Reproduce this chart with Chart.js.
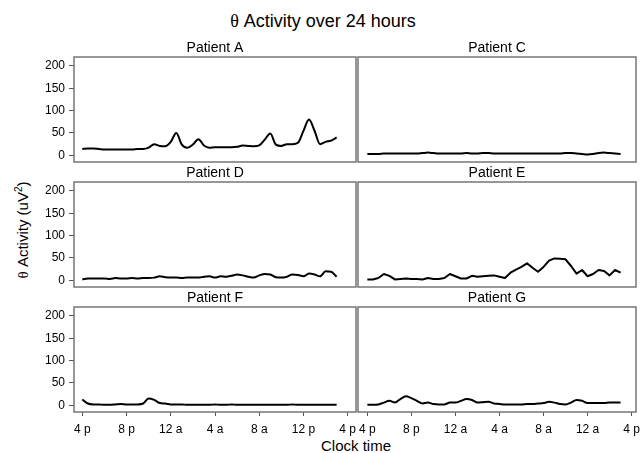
<!DOCTYPE html>
<html>
<head>
<meta charset="utf-8">
<script src="https://cdn.jsdelivr.net/npm/chart.js@4.4.0/dist/chart.umd.min.js"></script>
<style>
  body { margin: 0; background: #fff; }
  #wrap { position: relative; width: 642px; height: 453px; font-family: 'Liberation Sans', Arial, sans-serif; color: #000; overflow: hidden; }
  #wrap canvas { position: absolute; left: 0; top: 0; }
  .lbl { position: absolute; white-space: nowrap; line-height: 1; transform: translate(-50%, -50%); }
  .th { font-family: 'Liberation Serif', 'DejaVu Serif', serif; }
  #title { left: 323px; top: 21px; font-size: 18px; }
  #xlab { left: 356px; top: 445px; font-size: 15px; }
  #ylab { left: 22px; top: 230px; font-size: 15px; transform: translate(-50%, -50%) rotate(-90deg); }
  #ylab sup { font-size: 10px; vertical-align: 6px; }
</style>
</head>
<body>
<div id="wrap">
  <div class="lbl" id="title"><span class="th">θ</span> Activity over 24 hours</div>
  <div class="lbl" id="ylab"><span class="th">θ</span> Activity (uV<sup>2</sup>)</div>
  <div class="lbl" id="xlab">Clock time</div>
</div>
<script>
// hours since 4 pm
const hours = [0, 0.5, 1, 1.5, 2, 2.5, 3, 3.5, 4, 4.5, 5, 5.5, 6, 6.5, 7, 7.5, 8, 8.5, 9, 9.5,
  10, 10.5, 11, 11.5, 12, 12.5, 13, 13.5, 14, 14.5, 15, 15.5, 16, 16.5, 17, 17.5, 18, 18.5, 19, 19.5,
  20, 20.5, 21, 21.5, 22, 22.5, 23];

const xTickValues = [0, 4, 8, 12, 16, 20, 24];
const xTickLabelsLeft = ['4 p', '8 p', '12 a', '4 a', '8 a', '12 p', '4 p'];
const xTickLabelsRight = ['4 p', '8 p', '12 a', '4 a', '8 a', '12 a', '4 p'];
const yTickValues = [0, 50, 100, 150, 200];

const patientA = [14, 15, 15, 14, 13, 13, 13, 13, 13, 13, 14, 14, 17, 25, 21, 20, 30, 50, 24, 17,
  24, 36, 22, 17, 18, 18, 18, 18, 19, 22, 21, 20, 22, 35, 49, 24, 21, 25, 25, 28, 55, 80, 55, 25, 30, 33, 40];
const patientC = [3, 3, 3, 4, 4, 4, 4, 4, 4, 4, 5, 6, 5, 4, 4, 4, 4, 4, 5, 4,
  4, 5, 5, 4, 4, 4, 4, 4, 4, 4, 4, 4, 4, 4, 4, 4, 5, 5, 4, 3, 2, 3, 5, 6, 5, 4, 3];
const patientD = [2, 4, 4, 4, 4, 3, 5, 4, 4, 5, 4, 5, 5, 6, 9, 7, 6, 6, 5, 6,
  6, 6, 8, 9, 6, 9, 8, 10, 13, 11, 8, 6, 11, 14, 13, 7, 6, 8, 13, 12, 9, 15, 13, 9, 20, 19, 8];
const patientE = [2, 2, 5, 14, 10, 2, 3, 4, 3, 3, 2, 5, 3, 3, 5, 14, 9, 4, 4, 10,
  8, 9, 10, 11, 8, 5, 17, 24, 30, 38, 28, 19, 30, 44, 49, 48, 47, 32, 15, 23, 9, 14, 23, 21, 11, 23, 17];
const patientF = [13, 4, 2, 2, 1, 1, 2, 3, 2, 2, 2, 4, 15, 12, 5, 4, 2, 2, 2, 1,
  1, 1, 1, 1, 2, 1, 1, 2, 1, 1, 1, 1, 1, 1, 1, 1, 1, 1, 2, 1, 1, 1, 1, 1, 1, 1, 1];
const patientG = [1, 1, 2, 6, 10, 6, 14, 20, 16, 10, 4, 6, 3, 2, 2, 6, 6, 10, 14, 12,
  6, 7, 8, 4, 3, 2, 2, 2, 2, 3, 3, 4, 5, 8, 6, 3, 2, 6, 12, 10, 5, 5, 5, 5, 6, 6, 6];

const panels = [
  { name: 'Patient A', values: patientA, col: 0, row: 0, smooth: true },
  { name: 'Patient C', values: patientC, col: 1, row: 0, smooth: true },
  { name: 'Patient D', values: patientD, col: 0, row: 1, smooth: true },
  { name: 'Patient E', values: patientE, col: 1, row: 1, smooth: false },
  { name: 'Patient F', values: patientF, col: 0, row: 2, smooth: true },
  { name: 'Patient G', values: patientG, col: 1, row: 2, smooth: true }
];

// panel boxes in page pixels
const W = 642, H = 453;
const colLeft = [74, 358], colRight = [356, 636];
const rowTop = [57, 182, 307], rowBottom = [162, 287, 412];
const xMin = [-0.75, -0.85], xMax = [24.75, 24.4];
const Y_AXIS_W = 54, X_AXIS_H = 30, TITLE_H = 17;

Chart.defaults.font.family = "'Liberation Sans', Arial, sans-serif";
Chart.defaults.color = '#000';

// grey frame round each panel
const frame = {
  id: 'frame',
  afterDraw(chart) {
    const { ctx, chartArea: a } = chart;
    ctx.save();
    ctx.strokeStyle = '#767676';
    ctx.lineWidth = 1.5;
    ctx.strokeRect(a.left, a.top, a.right - a.left, a.bottom - a.top);
    ctx.restore();
  }
};

const wrap = document.getElementById('wrap');

panels.forEach(p => {
  const canvas = document.createElement('canvas');
  canvas.width = W;
  canvas.height = H;
  wrap.appendChild(canvas);

  const showY = p.col === 0;
  const showX = p.row === 2;
  const xLabels = p.col === 0 ? xTickLabelsLeft : xTickLabelsRight;

  new Chart(canvas, {
    type: 'line',
    data: {
      datasets: [{
        data: hours.map((h, i) => ({ x: h, y: p.values[i] })),
        borderColor: '#000',
        borderWidth: 2,
        pointRadius: 0,
        borderJoinStyle: 'round',
        cubicInterpolationMode: p.smooth ? 'monotone' : 'default',
        tension: 0,
        fill: false
      }]
    },
    options: {
      responsive: false,
      animation: false,
      layout: {
        padding: {
          left: showY ? colLeft[p.col] - Y_AXIS_W : colLeft[p.col],
          right: W - colRight[p.col],
          top: rowTop[p.row] - TITLE_H,
          bottom: H - rowBottom[p.row] - (showX ? X_AXIS_H : 0)
        }
      },
      plugins: {
        legend: { display: false },
        tooltip: { enabled: false },
        title: {
          display: true,
          text: p.name,
          fullSize: false,
          color: '#000',
          font: { size: 14, weight: 'normal', lineHeight: '16px' },
          padding: { top: 0, bottom: 1 }
        }
      },
      scales: {
        x: {
          type: 'linear',
          display: showX,
          min: xMin[p.col],
          max: xMax[p.col],
          afterBuildTicks: s => { s.ticks = xTickValues.map(v => ({ value: v })); },
          afterFit: s => {
            if (showX) s.height = X_AXIS_H;
            s.paddingLeft = 0;
            s.paddingRight = 0;
          },
          ticks: {
            autoSkip: false,
            maxRotation: 0,
            padding: 6,
            color: '#000',
            font: { size: 12 },
            callback: (v, i) => xLabels[i]
          },
          grid: { drawOnChartArea: false, drawTicks: true, tickLength: 4, color: '#555' },
          border: { display: false }
        },
        y: {
          display: showY,
          min: -15,
          max: 220,
          afterBuildTicks: s => { s.ticks = yTickValues.map(v => ({ value: v })); },
          afterFit: s => {
            if (showY) s.width = Y_AXIS_W;
            s.paddingTop = 0;
            s.paddingBottom = 0;
          },
          ticks: { padding: 4, color: '#000', font: { size: 12 } },
          grid: { drawOnChartArea: false, drawTicks: true, tickLength: 5, color: '#555' },
          border: { display: false }
        }
      }
    },
    plugins: [frame]
  });
});
</script>
</body>
</html>
